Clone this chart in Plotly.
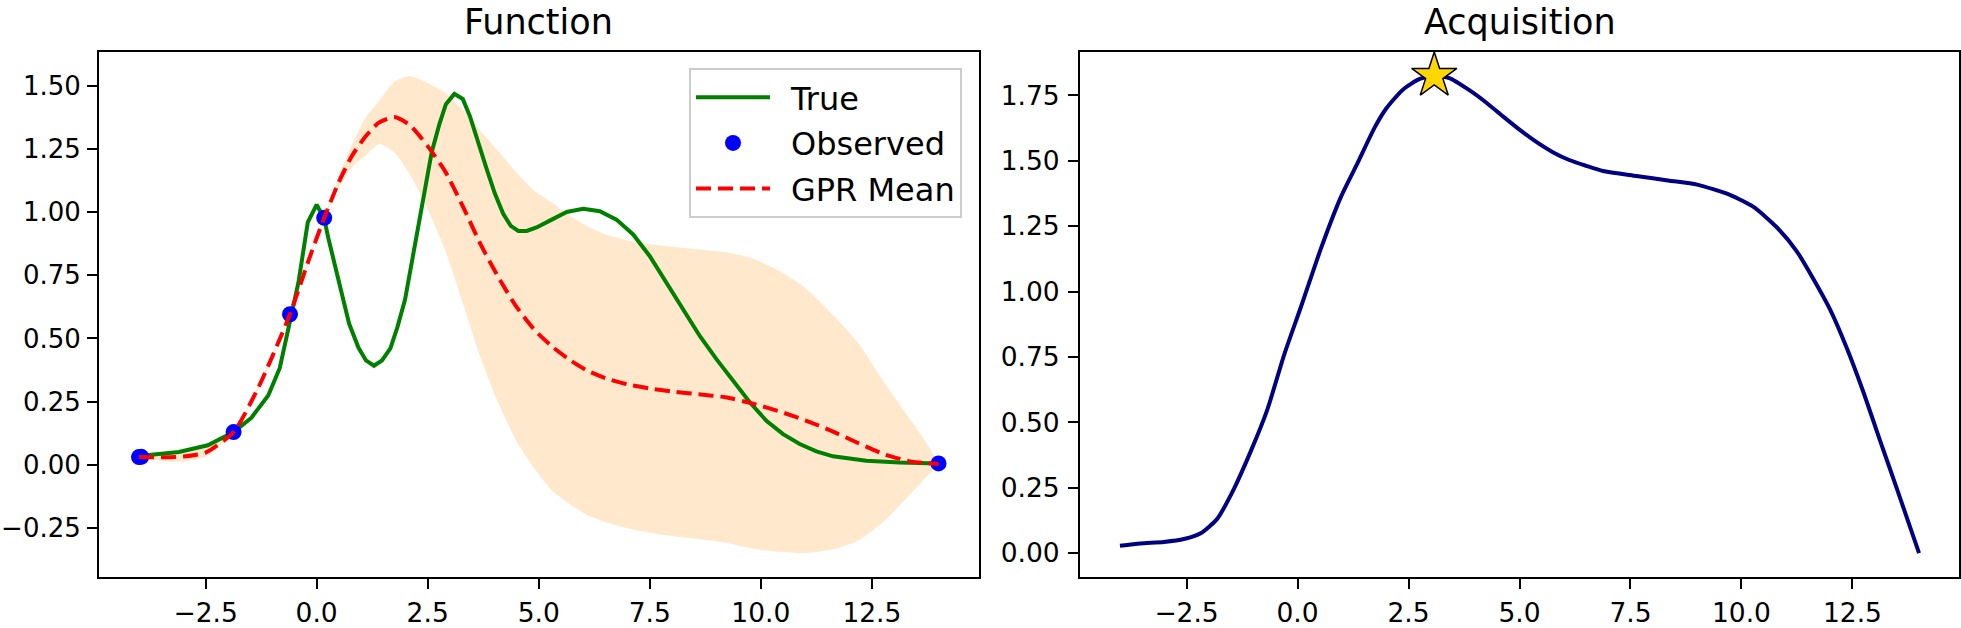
import plotly.graph_objects as go

W, H = 1961, 628

# ---- data ----
true_x = [-4.0, -3.1, -2.45, -1.87, -1.47, -1.09, -0.83, -0.6, -0.41, -0.2, 0.0, 0.17, 0.26,
          0.56, 0.73, 0.94, 1.11, 1.29, 1.47, 1.66, 1.82, 1.99, 2.18, 2.40, 2.59, 2.76, 2.91,
          3.10, 3.29, 3.45, 3.64, 3.83, 4.01, 4.20, 4.37, 4.54, 4.73, 4.95, 5.25, 5.63, 6.0,
          6.375, 6.75, 7.125, 7.5, 7.875, 8.25, 8.625, 9.0, 9.375, 9.75, 10.125, 10.5, 10.875,
          11.25, 11.625, 12.375, 13.125, 14.0]
true_y = [0.034, 0.050, 0.077, 0.129, 0.186, 0.274, 0.383, 0.573, 0.722, 0.960, 1.030, 0.975, 0.900,
          0.682, 0.559, 0.464, 0.413, 0.392, 0.413, 0.461, 0.546, 0.654, 0.845, 1.048, 1.238, 1.347, 1.428,
          1.469, 1.449, 1.381, 1.272, 1.170, 1.075, 0.994, 0.946, 0.926, 0.926, 0.940, 0.967, 1.001, 1.014,
          1.004, 0.971, 0.912, 0.826, 0.721, 0.615, 0.510, 0.418, 0.332, 0.247, 0.174, 0.121, 0.082,
          0.053, 0.033, 0.016, 0.009, 0.005]

obs_x = [-4.0, -3.95, -1.87, -0.6, 0.17, 14.0]
obs_y = [0.030, 0.031, 0.129, 0.596, 0.978, 0.005]

mean_x = [-4.0, -3.5, -3.0, -2.5, -1.87, -1.3, -0.6, -0.2, 0.17, 0.5, 0.8, 1.1, 1.4, 1.75,
          2.1, 2.5, 2.9, 3.3, 3.7, 4.1, 4.5, 4.9, 5.3, 5.7, 6.1, 6.5, 7.0, 7.5, 8.0, 8.6,
          9.2, 9.8, 10.4, 11.0, 11.6, 12.2, 12.8, 13.4, 13.75, 14.0]
mean_y = [0.030, 0.029, 0.032, 0.048, 0.129, 0.310, 0.596, 0.800, 0.978, 1.120, 1.225, 1.300, 1.355, 1.377,
          1.345, 1.262, 1.160, 1.020, 0.870, 0.740, 0.625, 0.535, 0.468, 0.415, 0.372, 0.343, 0.318, 0.302, 0.290, 0.279,
          0.267, 0.243, 0.212, 0.176, 0.133, 0.085, 0.040, 0.012, 0.006, 0.003]
band_upper = [0.030, 0.044, 0.052, 0.066, 0.129, 0.320, 0.596, 0.810, 0.978, 1.145, 1.270, 1.375, 1.440, 1.517,
              1.540, 1.512, 1.473, 1.405, 1.320, 1.240, 1.157, 1.085, 1.038, 0.987, 0.944, 0.913, 0.888, 0.874, 0.863, 0.853,
              0.842, 0.818, 0.769, 0.700, 0.598, 0.480, 0.320, 0.170, 0.080, 0.003]
band_lower = [0.030, 0.014, 0.012, 0.030, 0.129, 0.300, 0.596, 0.790, 0.978, 1.095, 1.180, 1.225, 1.270, 1.237,
              1.150, 1.012, 0.847, 0.635, 0.420, 0.240, 0.093, -0.015, -0.102, -0.157, -0.200, -0.227, -0.252, -0.270, -0.283, -0.295,
              -0.308, -0.332, -0.345, -0.350, -0.336, -0.300, -0.220, -0.110, -0.045, 0.003]

acq_x = [-4.0, -3.54, -3.01, -2.56, -2.18, -1.81, -1.43, -1.05, -0.68, -0.30, 0.08, 0.53, 0.98, 1.36,
         1.73, 1.99, 2.36, 2.74, 3.08, 3.42, 3.87, 4.24, 4.62, 5.0, 5.37, 5.75, 6.12, 6.5, 6.88, 7.63,
         8.38, 9.0, 9.75, 10.28, 10.8, 11.25, 11.62, 12.0, 12.37, 12.75, 13.12, 13.5, 14.0]
acq_y = [0.028, 0.037, 0.043, 0.054, 0.076, 0.131, 0.247, 0.391, 0.549, 0.759, 0.943, 1.166, 1.363, 1.494,
         1.625, 1.698, 1.770, 1.812, 1.825, 1.816, 1.770, 1.724, 1.671, 1.619, 1.573, 1.533, 1.503, 1.481, 1.461, 1.442,
         1.424, 1.409, 1.369, 1.323, 1.245, 1.153, 1.048, 0.930, 0.785, 0.614, 0.431, 0.247, 0.0]

best_x = [3.08]
best_y = [1.825]

titles = ["Function", "Acquisition"]
legend_names = ["True", "Observed", "GPR Mean"]

FONT = "DejaVu Sans"
GAP = "\u2002"  # small gap between legend sample and label

fig = go.Figure()

# uncertainty band
fig.add_trace(go.Scatter(x=mean_x, y=band_upper, mode="lines", line=dict(width=0, shape="spline", smoothing=0.6),
                         showlegend=False, hoverinfo="skip", xaxis="x", yaxis="y"))
fig.add_trace(go.Scatter(x=mean_x, y=band_lower, mode="lines", line=dict(width=0, shape="spline", smoothing=0.6),
                         fill="tonexty", fillcolor="rgba(255,140,0,0.2)",
                         showlegend=False, hoverinfo="skip", xaxis="x", yaxis="y"))
# true function
fig.add_trace(go.Scatter(x=true_x, y=true_y, mode="lines", name=GAP + legend_names[0], legendgroup="a",
                         line=dict(color="#008000", width=4), xaxis="x", yaxis="y"))
# observed
fig.add_trace(go.Scatter(x=obs_x, y=obs_y, mode="markers", name=GAP + legend_names[1], legendgroup="b",
                         marker=dict(color="#0000FF", size=16, line=dict(width=0)), xaxis="x", yaxis="y"))
# GPR mean
fig.add_trace(go.Scatter(x=mean_x, y=mean_y, mode="lines", name=GAP + legend_names[2], legendgroup="c",
                         line=dict(color="#FF0000", width=4, dash="15px,7px", shape="spline", smoothing=0.6),
                         xaxis="x", yaxis="y"))
# acquisition
fig.add_trace(go.Scatter(x=acq_x, y=acq_y, mode="lines", showlegend=False,
                         line=dict(color="#000080", width=4, shape="spline", smoothing=0.6),
                         xaxis="x2", yaxis="y2"))
fig.add_trace(go.Scatter(x=best_x, y=best_y, mode="markers", showlegend=False,
                         marker=dict(symbol="star", size=34, color="#FFD700", line=dict(color="black", width=1.5)),
                         xaxis="x2", yaxis="y2"))

ydom = [1 - 577 / H, 1 - 52 / H]
xdom1 = [99 / W, 978.5 / W]
xdom2 = [1080 / W, 1959 / W]

axis_common = dict(ticks="outside", ticklen=10, tickwidth=2, tickcolor="black",
                   showline=True, linewidth=2, linecolor="black", mirror=True,
                   showgrid=False, zeroline=False, automargin=False)
tick_font = dict(family=FONT, size=26.5, color="black")
ytick_font = dict(family=FONT, size=26, color="black")

fig.update_layout(
    template="none",
    width=W, height=H,
    margin=dict(l=0, r=0, t=0, b=0),
    paper_bgcolor="white", plot_bgcolor="white",
    xaxis=dict(domain=xdom1, range=[-4.9, 14.9], tick0=0, dtick=2.5, tickformat=".1f",
               anchor="y", ticklabelstandoff=1, tickfont=tick_font, **axis_common),
    yaxis=dict(domain=ydom, range=[-0.445, 1.635], tick0=0, dtick=0.25, tickformat=".2f",
               anchor="x", ticklabelstandoff=1, tickfont=ytick_font, **axis_common),
    xaxis2=dict(domain=xdom2, range=[-4.9, 14.9], tick0=0, dtick=2.5, tickformat=".1f",
                anchor="y2", ticklabelstandoff=1, tickfont=tick_font, **axis_common),
    yaxis2=dict(domain=ydom, range=[-0.0912, 1.916], tick0=0, dtick=0.25, tickformat=".2f",
                anchor="x2", ticklabelstandoff=3, tickfont=tick_font, **axis_common),
    legend=dict(x=962 / W, xanchor="right", y=1 - 68 / H, yanchor="top",
                bgcolor="rgba(255,255,255,0.8)", bordercolor="#cccccc", borderwidth=2,
                font=dict(family=FONT, size=32, color="black"),
                tracegroupgap=1, itemwidth=74),
    showlegend=True,
    annotations=[
        dict(text=titles[0], x=(xdom1[0] + xdom1[1]) / 2, y=1, xref="paper", yref="paper",
             xanchor="center", yanchor="top", showarrow=False,
             font=dict(family=FONT, size=35, color="black")),
        dict(text=titles[1], x=(xdom2[0] + xdom2[1]) / 2, y=1, xref="paper", yref="paper",
             xanchor="center", yanchor="top", showarrow=False,
             font=dict(family=FONT, size=35, color="black")),
    ],
)

fig.write_html("out.html", config={"displayModeBar": False},
               post_script="document.body.style.margin='0';document.body.style.padding='0';")
